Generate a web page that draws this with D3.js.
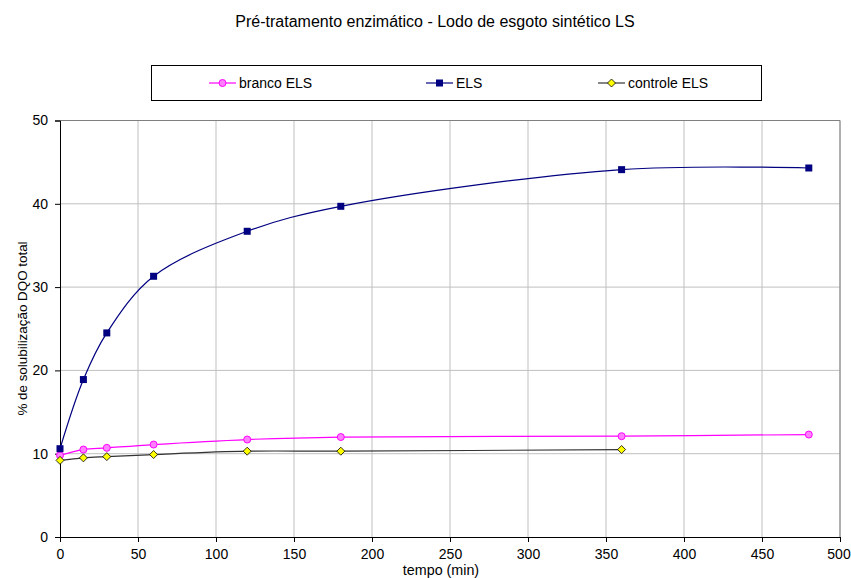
<!DOCTYPE html>
<html><head><meta charset="utf-8">
<script src="https://cdn.jsdelivr.net/npm/d3@7"></script>
<style>body{margin:0;background:#fff;} text{font-family:"Liberation Sans",Arial,sans-serif;}</style>
</head><body><svg id="c" width="851" height="578"></svg>
<script>
const tempo = [0, 15, 30, 60, 120, 180, 360, 480];
const brancoELS = [9.8, 10.5, 10.7, 11.1, 11.7, 12.0, 12.1, 12.3];
const ELS = [10.6, 18.9, 24.5, 31.3, 36.7, 39.7, 44.1, 44.3];
const tempoControle = [0, 15, 30, 60, 120, 180, 360];
const controleELS = [9.2, 9.5, 9.65, 9.9, 10.3, 10.3, 10.5];
const xTicks = [0, 50, 100, 150, 200, 250, 300, 350, 400, 450, 500];
const yTicks = [0, 10, 20, 30, 40, 50];
const title = "Pré-tratamento enzimático - Lodo de esgoto sintético LS";

const svg = d3.select("#c");
const L = 60, R = 840, T = 120.5, B = 537;
const x = d3.scaleLinear().domain([0, 500]).range([L, R]);
const y = d3.scaleLinear().domain([0, 50]).range([B, T]);

svg.append("text").attr("x", 435).attr("y", 26.5).attr("text-anchor", "middle")
  .attr("font-size", 16).text(title);

// grid
const g = svg.append("g");
g.selectAll(".vg").data(xTicks.slice(1)).join("line")
  .attr("x1", d => x(d)).attr("x2", d => x(d)).attr("y1", T).attr("y2", B)
  .attr("stroke", "#c0c0c0").attr("stroke-width", 1);
g.selectAll(".hg").data(yTicks.slice(1)).join("line")
  .attr("x1", L).attr("x2", R).attr("y1", d => y(d)).attr("y2", d => y(d))
  .attr("stroke", "#c0c0c0").attr("stroke-width", 1);
svg.append("path").attr("d", `M${L},${T}H${R}V${B}`).attr("fill", "none").attr("stroke", "#808080");

// axes
const xAxis = svg.append("g").attr("transform", `translate(0,${B})`)
  .call(d3.axisBottom(x).tickValues(xTicks).tickSize(5).tickPadding(7));
const yAxis = svg.append("g").attr("transform", `translate(${L},0)`)
  .call(d3.axisLeft(y).tickValues(yTicks).tickSize(5).tickPadding(7));
[xAxis, yAxis].forEach(a => {
  a.selectAll("text").attr("font-size", 14).attr("fill", "#000").attr("font-family", "Liberation Sans, Arial, sans-serif");
  a.selectAll("line").attr("stroke", "#000");
  a.select(".domain").attr("stroke", "#000");
});
xAxis.selectAll(".tick text").filter(d => d === 500).attr("dx", -1.5);

svg.append("text").attr("x", 441).attr("y", 575).attr("text-anchor", "middle")
  .attr("font-size", 14.3).text("tempo (min)");
svg.append("text").attr("transform", "translate(27,328.5) rotate(-90)").attr("text-anchor", "middle")
  .attr("font-size", 13.4).text("% de solubilização DQO total");

const line = d3.line().x(d => x(d[0])).y(d => y(d[1])).curve(d3.curveCatmullRom.alpha(0.5));

const series = [
  {name: "branco ELS", xs: tempo, ys: brancoELS, color: "#ff00ff", marker: "circle", fill: "#ff80ff", stroke: "#ff00ff"},
  {name: "ELS", xs: tempo, ys: ELS, color: "#000080", marker: "square", fill: "#000080", stroke: "#000080"},
  {name: "controle ELS", xs: tempoControle, ys: controleELS, color: "#333333", marker: "diamond", fill: "#ffff00", stroke: "#000"}
];

function drawMarker(sel, s, cx, cy) {
  if (s.marker === "circle") sel.append("circle").attr("cx", cx).attr("cy", cy).attr("r", 3.5)
    .attr("fill", s.fill).attr("stroke", s.stroke).attr("stroke-width", 1);
  else if (s.marker === "square") sel.append("rect").attr("x", cx - 3.5).attr("y", cy - 3.5)
    .attr("width", 7).attr("height", 7).attr("fill", s.fill);
  else sel.append("path").attr("d", `M${cx},${cy-4}L${cx+4},${cy}L${cx},${cy+4}L${cx-4},${cy}Z`)
    .attr("fill", s.fill).attr("stroke", s.stroke).attr("stroke-width", 0.8);
}

series.forEach(s => {
  const pts = s.xs.map((t, i) => [t, s.ys[i]]);
  svg.append("path").attr("d", line(pts)).attr("fill", "none").attr("stroke", s.color).attr("stroke-width", 1.2);
  const mg = svg.append("g");
  pts.forEach(p => drawMarker(mg, s, x(p[0]), y(p[1])));
});

// legend
svg.append("rect").attr("x", 151.5).attr("y", 65.5).attr("width", 610).attr("height", 35)
  .attr("fill", "#fff").attr("stroke", "#000").attr("stroke-width", 1);
const legX = [209, 426, 598];
series.forEach((s, i) => {
  const lg = svg.append("g");
  const ly = 83;
  lg.append("line").attr("x1", legX[i]).attr("x2", legX[i] + 27).attr("y1", ly).attr("y2", ly)
    .attr("stroke", s.color).attr("stroke-width", 1.2);
  drawMarker(lg, s, legX[i] + 13.5, ly);
  lg.append("text").attr("x", legX[i] + 30).attr("y", ly + 5).attr("font-size", 14).text(s.name);
});
</script></body></html>
